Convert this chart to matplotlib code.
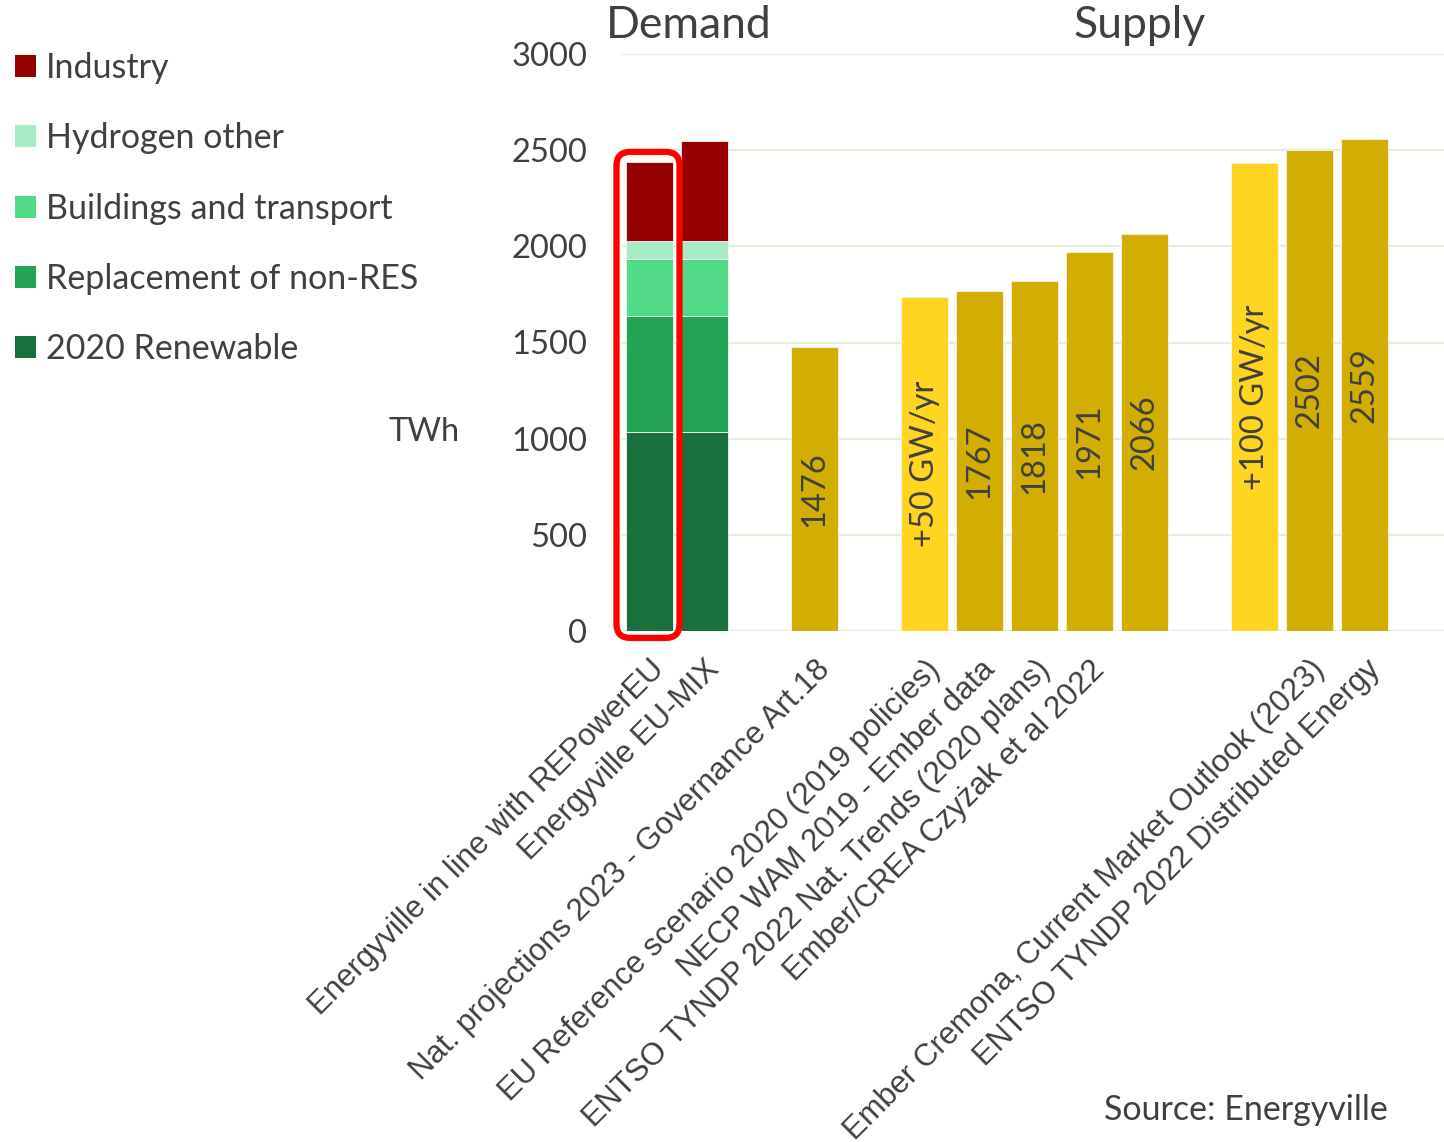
import matplotlib.pyplot as plt
from matplotlib.patches import Patch, FancyBboxPatch

# demand scenarios (stacked), TWh
demand_labels = ['Energyville in line with REPowerEU', 'Energyville EU-MIX']
renewable_2020 = [1035, 1035]
replacement_non_res = [605, 605]
buildings_transport = [295, 295]
hydrogen_other = [95, 95]
industry = [410, 520]

# supply scenarios, TWh
supply_labels = ['Nat. projections 2023 - Governance Art.18',
                 'EU Reference scenario 2020 (2019 policies)',
                 'NECP WAM 2019 - Ember data',
                 'ENTSO TYNDP 2022 Nat. Trends (2020 plans)',
                 'Ember/CREA Czyżak et al 2022',
                 'Ember Cremona, Current Market Outlook (2023)',
                 'ENTSO TYNDP 2022 Distributed Energy']
supply_values = [1476, 1735, 1767, 1818, 1971, 2066, 2435, 2502, 2559]
supply_text = ['1476', '+50 GW/yr', '1767', '1818', '1971', '2066',
               '+100 GW/yr', '2502', '2559']
supply_highlight = [False, True, False, False, False, False, True, False, False]

layer_names = ['2020 Renewable', 'Replacement of non-RES', 'Buildings and transport',
               'Hydrogen other', 'Industry']
layer_colors = ['#19703C', '#22A355', '#53DA89', '#A8EBC6', '#950000']
gold = '#D1AE00'
yellow = '#FED520'

main_font = 'Lato'
label_font = 'Liberation Sans'
txt = '#404040'

fig = plt.figure(figsize=(14.44, 11.42), dpi=100)
ax = fig.add_axes([622 / 1444, 1 - 631 / 1142, 1 - 622 / 1444, (631 - 54) / 1142])

demand_x = [0, 1]
supply_x = [3, 5, 6, 7, 8, 9, 11, 12, 13]
w = 0.85

bottom = [0, 0]
for vals, col in zip([renewable_2020, replacement_non_res, buildings_transport,
                      hydrogen_other, industry], layer_colors):
    ax.bar(demand_x, vals, w, bottom=bottom, color=col, edgecolor='#f4f4f4',
           linewidth=0.6, zorder=3)
    bottom = [b + v for b, v in zip(bottom, vals)]

cols = [yellow if h else gold for h in supply_highlight]
ax.bar(supply_x, supply_values, w, color=cols, edgecolor='#f4f4f4',
       linewidth=0.6, zorder=3)
for x, v, t in zip(supply_x, supply_values, supply_text):
    ax.text(x, v / 2, t, rotation=90, ha='center', va='center', fontsize=23.5,
            family=main_font, color=txt, zorder=4)

ax.set_ylim(0, 3000)
ax.set_xlim(-0.5, 14.44)
ax.set_yticks(range(0, 3001, 500))
ax.grid(axis='y', color='#E4F1D9', linewidth=1.6, zorder=0)
for s in ax.spines.values():
    s.set_visible(False)
ax.tick_params(axis='y', length=0, pad=25, labelsize=23.5, labelcolor=txt)
for lab in ax.get_yticklabels():
    lab.set_family(main_font)

xl = demand_labels + supply_labels
xt = demand_x + [3, 5, 6, 7, 8, 12, 13]
ax.set_xticks(xt)
ax.set_xticklabels(xl, rotation=45, ha='right', rotation_mode='anchor',
                   fontsize=22.3, family=label_font, color=txt)
ax.tick_params(axis='x', length=0, pad=17)

# red highlight box around the first demand bar
asp = (3000 / 577) / (1 / 55)
box = FancyBboxPatch((-0.6, -36), 1.145, 2527,
                     boxstyle='round,pad=0,rounding_size=0.25',
                     mutation_aspect=asp, fill=False, edgecolor='#FF0000',
                     linewidth=4.5, clip_on=False, zorder=5)
ax.add_patch(box)

handles = [Patch(facecolor=c, edgecolor='none') for c in layer_colors[::-1]]
fig.legend(handles, layer_names[::-1], loc='upper left',
           bbox_to_anchor=(-0.011, 0.981), frameon=False,
           prop={'family': main_font, 'size': 24.5}, labelcolor=txt,
           handlelength=0.62, handleheight=0.62, handletextpad=0.3,
           labelspacing=1.12)

fig.text(424 / 1444, 1 - 432 / 1142, 'TWh', ha='center', va='center',
         fontsize=23.5, family=main_font, color=txt)
fig.text(689 / 1444, 1 - 26 / 1142, 'Demand', ha='center', va='center',
         fontsize=32, family=main_font, color=txt)
fig.text(1140 / 1444, 1 - 26 / 1142, 'Supply', ha='center', va='center',
         fontsize=32, family=main_font, color=txt)
fig.text(1388 / 1444, 1 - 1110 / 1142, 'Source: Energyville', ha='right',
         va='center', fontsize=24.5, family=main_font, color=txt)

fig.savefig('out.png', dpi=100, facecolor='white')
